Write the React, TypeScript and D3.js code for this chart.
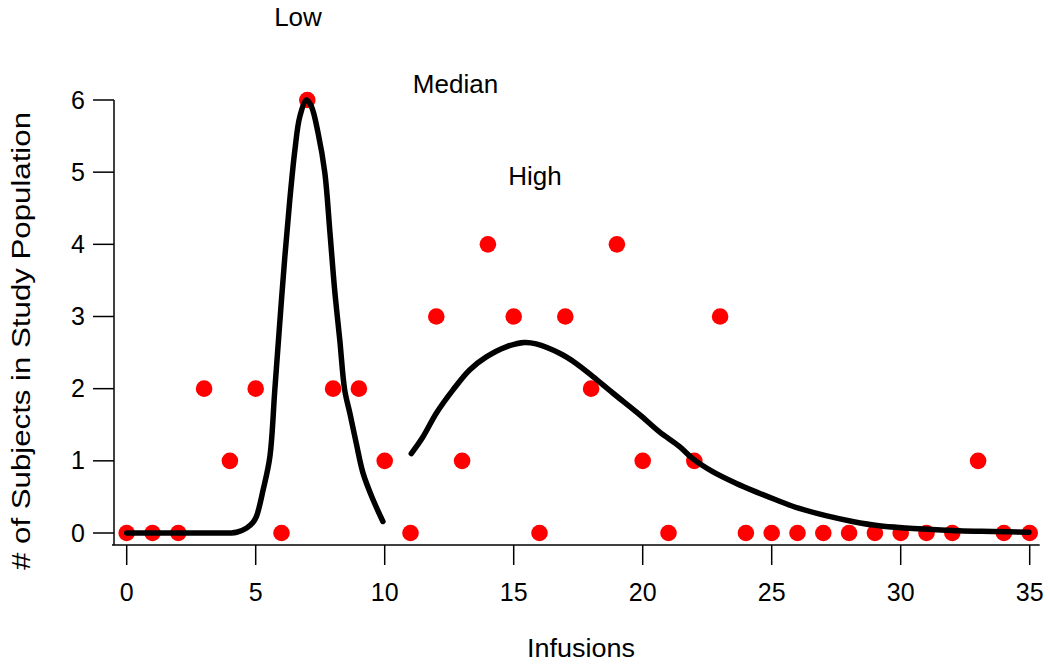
import React from "react";
import * as d3 from "d3";

const infusions = Array.from({ length: 36 }, (_, i) => i);
const subjects = [0, 0, 0, 2, 1, 2, 0, 6, 2, 2, 1, 0, 3, 1, 4, 3, 0, 3, 2, 4, 1, 0, 1, 3, 0, 0, 0, 0, 0, 0, 0, 0, 0, 1, 0, 0];

const lowFitX = [0, 1, 2, 3, 4.0, 4.26, 4.65, 4.9, 5.03, 5.29, 5.55, 5.74, 5.93, 6.13, 6.32, 6.52, 6.71, 6.97, 7.16, 7.42, 7.68, 7.87, 8.06, 8.26, 8.45, 8.65, 8.9, 9.16, 9.55, 9.93];
const lowFitY = [0, 0, 0, 0, 0.0, 0.01, 0.07, 0.15, 0.23, 0.6, 1.06, 1.98, 2.9, 3.83, 4.61, 5.31, 5.77, 6.0, 5.91, 5.54, 4.99, 4.2, 3.37, 2.67, 1.98, 1.66, 1.24, 0.83, 0.46, 0.16];

const highFitX = [11.03, 11.48, 12.0, 12.64, 13.29, 13.94, 14.71, 15.42, 15.87, 16.78, 17.42, 18.06, 18.84, 19.88, 20.65, 21.42, 21.94, 22.71, 23.61, 24.39, 25.16, 26.07, 27.1, 28.13, 29.16, 30.2, 31.23, 32.26, 33.55, 34.97];
const highFitY = [1.1, 1.33, 1.66, 1.98, 2.26, 2.44, 2.58, 2.64, 2.62, 2.49, 2.35, 2.17, 1.94, 1.64, 1.4, 1.2, 1.03, 0.85, 0.69, 0.57, 0.46, 0.34, 0.24, 0.16, 0.1, 0.07, 0.05, 0.03, 0.02, 0.01];

const xTicks = [0, 5, 10, 15, 20, 25, 30, 35];
const yTicks = [0, 1, 2, 3, 4, 5, 6];

const groupLabels = ["Low", "Median", "High"];

export default function App() {
  const W = 1050;
  const H = 668;
  const x = d3.scaleLinear().domain([0, 35]).range([126.7, 1029.7]);
  const y = d3.scaleLinear().domain([0, 6]).range([533, 100]);
  const axisY = 545;
  const axisX = 114;
  const font = "'Liberation Sans', Arial, sans-serif";

  const line = d3
    .line<[number, number]>()
    .x((d) => x(d[0]))
    .y((d) => y(d[1]))
    .curve(d3.curveCatmullRom);

  const lowPts = lowFitX.map((v, i) => [v, lowFitY[i]] as [number, number]);
  const highPts = highFitX.map((v, i) => [v, highFitY[i]] as [number, number]);

  const labelPos = [
    { x: 298, y: 26 },
    { x: 455.5, y: 93 },
    { x: 535, y: 185 },
  ];

  return (
    <svg
      width={W}
      height={H}
      style={{ position: "absolute", left: 0, top: 0, background: "#fff" }}
      fontFamily={font}
    >
      {/* Y axis */}
      <line x1={axisX} x2={axisX} y1={y(6)} y2={axisY} stroke="#000" strokeWidth={1.5} />
      {yTicks.map((t) => (
        <g key={"y" + t}>
          <line x1={93} x2={axisX} y1={y(t)} y2={y(t)} stroke="#000" strokeWidth={1.5} />
          <text x={85} y={y(t) + 8.5} textAnchor="end" fontSize={25}>
            {t}
          </text>
        </g>
      ))}
      {/* X axis */}
      <line x1={axisX - 2} x2={x(35) + 10} y1={axisY} y2={axisY} stroke="#000" strokeWidth={1.5} />
      {xTicks.map((t) => (
        <g key={"x" + t}>
          <line x1={x(t)} x2={x(t)} y1={axisY} y2={565} stroke="#000" strokeWidth={1.5} />
          <text x={x(t)} y={601} textAnchor="middle" fontSize={25}>
            {t}
          </text>
        </g>
      ))}
      <text x={581} y={657} textAnchor="middle" fontSize={26} textLength={108} lengthAdjust="spacingAndGlyphs">
        Infusions
      </text>
      <text
        transform={`translate(30, 341) rotate(-90)`}
        textAnchor="middle"
        fontSize={26}
        textLength={458}
        lengthAdjust="spacingAndGlyphs"
      >
        # of Subjects in Study Population
      </text>

      {/* Points */}
      {infusions.map((v, i) => (
        <circle key={"p" + i} cx={x(v)} cy={y(subjects[i])} r={8.3} fill="#ff0000" />
      ))}

      {/* Fit curves */}
      <path d={line(lowPts) || ""} fill="none" stroke="#000" strokeWidth={5.5} strokeLinejoin="round" strokeLinecap="round" />
      <path d={line(highPts) || ""} fill="none" stroke="#000" strokeWidth={5.5} strokeLinejoin="round" strokeLinecap="round" />

      {groupLabels.map((l, i) => (
        <text key={l} x={labelPos[i].x} y={labelPos[i].y} textAnchor="middle" fontSize={26}>
          {l}
        </text>
      ))}
    </svg>
  );
}
